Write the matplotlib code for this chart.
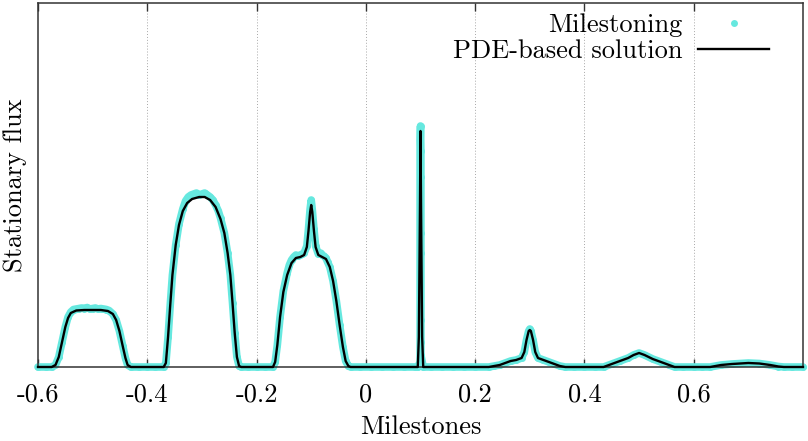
import matplotlib
matplotlib.use("Agg")
import matplotlib.pyplot as plt

# stationary flux along the milestones (arbitrary units)
x_pde = [-0.600, -0.575, -0.568, -0.562, -0.556, -0.550, -0.545, -0.540, -0.530, -0.515,
         -0.500, -0.485, -0.472, -0.463, -0.457, -0.451, -0.445, -0.440, -0.436, -0.430,
         -0.370, -0.366, -0.362, -0.358, -0.354, -0.348, -0.342, -0.335, -0.327, -0.318,
         -0.305, -0.295, -0.285, -0.275, -0.266, -0.259, -0.253, -0.248, -0.244, -0.240,
         -0.236, -0.232, -0.228,
         -0.170, -0.166, -0.162, -0.157, -0.151, -0.144, -0.136, -0.128, -0.120, -0.113,
         -0.108, -0.105, -0.102, -0.100, -0.098, -0.095, -0.092, -0.087, -0.080, -0.073,
         -0.066, -0.060, -0.054, -0.048, -0.042, -0.037, -0.032, -0.028,
         0.095, 0.097, 0.099, 0.100, 0.101, 0.103, 0.105,
         0.225, 0.235, 0.245, 0.255, 0.265, 0.275, 0.285, 0.290, 0.294, 0.298,
         0.300, 0.302, 0.306, 0.310, 0.315, 0.325, 0.335, 0.345, 0.355, 0.365,
         0.435, 0.450, 0.465, 0.480, 0.490, 0.500, 0.510, 0.525, 0.540, 0.555, 0.565,
         0.630, 0.650, 0.670, 0.700, 0.720, 0.740, 0.755, 0.765, 0.800]
y_pde = [0.00, 0.00, 0.02, 0.10, 0.25, 0.40, 0.49, 0.54, 0.565, 0.57,
         0.57, 0.57, 0.56, 0.53, 0.47, 0.36, 0.21, 0.09, 0.02, 0.00,
         0.00, 0.04, 0.30, 0.62, 0.92, 1.22, 1.42, 1.56, 1.64, 1.68,
         1.70, 1.70, 1.67, 1.60, 1.48, 1.34, 1.14, 0.92, 0.64, 0.34,
         0.10, 0.01, 0.00,
         0.00, 0.05, 0.22, 0.50, 0.75, 0.92, 1.04, 1.09, 1.10, 1.12,
         1.20, 1.36, 1.55, 1.62, 1.55, 1.36, 1.20, 1.12, 1.10, 1.08,
         1.00, 0.86, 0.66, 0.42, 0.20, 0.06, 0.01, 0.00,
         0.00, 0.30, 1.60, 2.36, 1.60, 0.30, 0.00,
         0.00, 0.01, 0.02, 0.04, 0.06, 0.07, 0.09, 0.15, 0.27, 0.36,
         0.37, 0.36, 0.27, 0.15, 0.09, 0.07, 0.05, 0.03, 0.01, 0.00,
         0.00, 0.03, 0.06, 0.09, 0.12, 0.14, 0.12, 0.08, 0.05, 0.02, 0.00,
         0.00, 0.02, 0.03, 0.04, 0.035, 0.02, 0.005, 0.00, 0.00]

x_mile = [-0.600, -0.585, -0.575, -0.568, -0.562, -0.556, -0.550, -0.545, -0.540, -0.535,
          -0.530, -0.525, -0.520, -0.515, -0.510, -0.505, -0.500, -0.495, -0.490, -0.485,
          -0.480, -0.475, -0.470, -0.463, -0.457, -0.451, -0.445, -0.440, -0.436, -0.430,
          -0.415, -0.400, -0.385, -0.370, -0.366, -0.362, -0.358, -0.354, -0.348, -0.342,
          -0.335, -0.330, -0.325, -0.320, -0.315, -0.310, -0.305, -0.300, -0.295, -0.290,
          -0.285, -0.280, -0.275, -0.270, -0.266, -0.259, -0.253, -0.248, -0.244, -0.240,
          -0.236, -0.232, -0.228, -0.215, -0.200, -0.185, -0.170, -0.166, -0.162, -0.157,
          -0.151, -0.144, -0.140, -0.136, -0.132, -0.128, -0.124, -0.120, -0.116, -0.113,
          -0.108, -0.105, -0.102, -0.100, -0.098, -0.095, -0.092, -0.087, -0.083, -0.080,
          -0.077, -0.073, -0.070, -0.066, -0.060, -0.054, -0.048, -0.042, -0.037, -0.032,
          -0.028, -0.010, 0.010, 0.030, 0.050, 0.070, 0.090, 0.095,
          0.0993, 0.0993, 0.0993, 0.0993, 0.0993, 0.0993, 0.0993, 0.0993, 0.0993,
          0.100, 0.1007, 0.1007, 0.1007, 0.1007, 0.1007, 0.1007, 0.1007, 0.105,
          0.120, 0.140, 0.160, 0.180, 0.200, 0.225, 0.235, 0.245, 0.255, 0.265,
          0.275, 0.285, 0.290, 0.294, 0.298, 0.300, 0.302, 0.306, 0.310, 0.315,
          0.325, 0.335, 0.345, 0.355, 0.365, 0.380, 0.400, 0.420, 0.435, 0.450,
          0.465, 0.480, 0.490, 0.500, 0.510, 0.525, 0.540, 0.555, 0.565, 0.580,
          0.600, 0.615, 0.630, 0.650, 0.670, 0.700, 0.720, 0.740, 0.755, 0.765,
          0.780, 0.800]
y_mile = [0.00, 0.00, 0.00, 0.02, 0.10, 0.25, 0.40, 0.50, 0.55, 0.575,
          0.58, 0.585, 0.59, 0.585, 0.595, 0.58, 0.585, 0.59, 0.58, 0.585,
          0.58, 0.575, 0.565, 0.53, 0.47, 0.36, 0.21, 0.09, 0.02, 0.00,
          0.00, 0.00, 0.00, 0.00, 0.04, 0.30, 0.62, 0.92, 1.22, 1.43,
          1.58, 1.66, 1.70, 1.72, 1.73, 1.74, 1.72, 1.73, 1.74, 1.72,
          1.70, 1.67, 1.62, 1.56, 1.49, 1.34, 1.14, 0.92, 0.64, 0.34,
          0.10, 0.01, 0.00, 0.00, 0.00, 0.00, 0.00, 0.05, 0.22, 0.50,
          0.76, 0.94, 1.02, 1.07, 1.10, 1.12, 1.11, 1.12, 1.13, 1.14,
          1.21, 1.38, 1.58, 1.67, 1.57, 1.38, 1.21, 1.13, 1.14, 1.12,
          1.11, 1.09, 1.05, 1.00, 0.86, 0.66, 0.42, 0.20, 0.06, 0.01,
          0.00, 0.00, 0.00, 0.00, 0.00, 0.00, 0.00, 0.00,
          0.05, 0.17, 0.37, 0.57, 0.94, 1.24, 1.73, 2.04, 2.26,
          2.41, 2.16, 1.90, 1.34, 1.14, 0.47, 0.25, 0.12, 0.00,
          0.00, 0.00, 0.00, 0.00, 0.00, 0.00, 0.01, 0.02, 0.04, 0.06,
          0.07, 0.09, 0.15, 0.27, 0.36, 0.38, 0.36, 0.27, 0.15, 0.09,
          0.07, 0.05, 0.03, 0.01, 0.00, 0.00, 0.00, 0.00, 0.00, 0.03,
          0.06, 0.09, 0.12, 0.14, 0.12, 0.08, 0.05, 0.02, 0.00, 0.00,
          0.00, 0.00, 0.00, 0.02, 0.03, 0.04, 0.035, 0.02, 0.005, 0.00,
          0.00, 0.00]

xticks = [-0.6, -0.4, -0.2, 0.0, 0.2, 0.4, 0.6]
xtick_labels = ['-0.6', '-0.4', '-0.2', '0', '0.2', '0.4', '0.6']

plt.rcParams['font.family'] = 'cmr10'
plt.rcParams['mathtext.fontset'] = 'cm'
plt.rcParams['axes.unicode_minus'] = False

cyan = '#66e8df'
fs = 19

fig = plt.figure(figsize=(8.08, 4.41), dpi=100)
ax = fig.add_axes([38 / 808, 1 - 367 / 441, 765 / 808, 364 / 441])

# thick band under the points so the dense milestones read as a ribbon
ax.plot(x_mile, y_mile, color=cyan, lw=5.5, solid_capstyle='round',
        solid_joinstyle='round', clip_on=False, zorder=2)
ax.plot(x_mile, y_mile, 'o', color=cyan, ms=5, mew=0, clip_on=False,
        zorder=2, label='Milestoning')
ax.plot(x_pde, y_pde, color='black', lw=1.7, clip_on=False, zorder=3,
        label='PDE-based solution')

ax.set_xlim(-0.6, 0.8)
ax.set_ylim(0, 3.64)
ax.set_xticks(xticks)
ax.set_xticklabels(xtick_labels, fontsize=fs)
ax.set_yticks([])
ax.tick_params(axis='x', direction='in', length=6, width=1.0, top=True,
               color='#333333', pad=11)

for v in xticks[1:]:
    ax.axvline(v, color='#a8a8a8', lw=0.7, ls=(0, (1, 2)), zorder=1)

for s in ax.spines.values():
    s.set_color('#333333')
    s.set_linewidth(1.1)

ax.set_xlabel('Milestones', fontsize=fs, labelpad=7)
ax.set_ylabel('Stationary flux', fontsize=fs, labelpad=8)

leg = ax.legend(loc='upper right', bbox_to_anchor=(0.956, 0.972), frameon=False,
                markerfirst=False, fontsize=fs, handlelength=2.7,
                handletextpad=0.6, labelspacing=0.1, borderpad=0,
                borderaxespad=0)

fig.savefig('out.png', dpi=100)
